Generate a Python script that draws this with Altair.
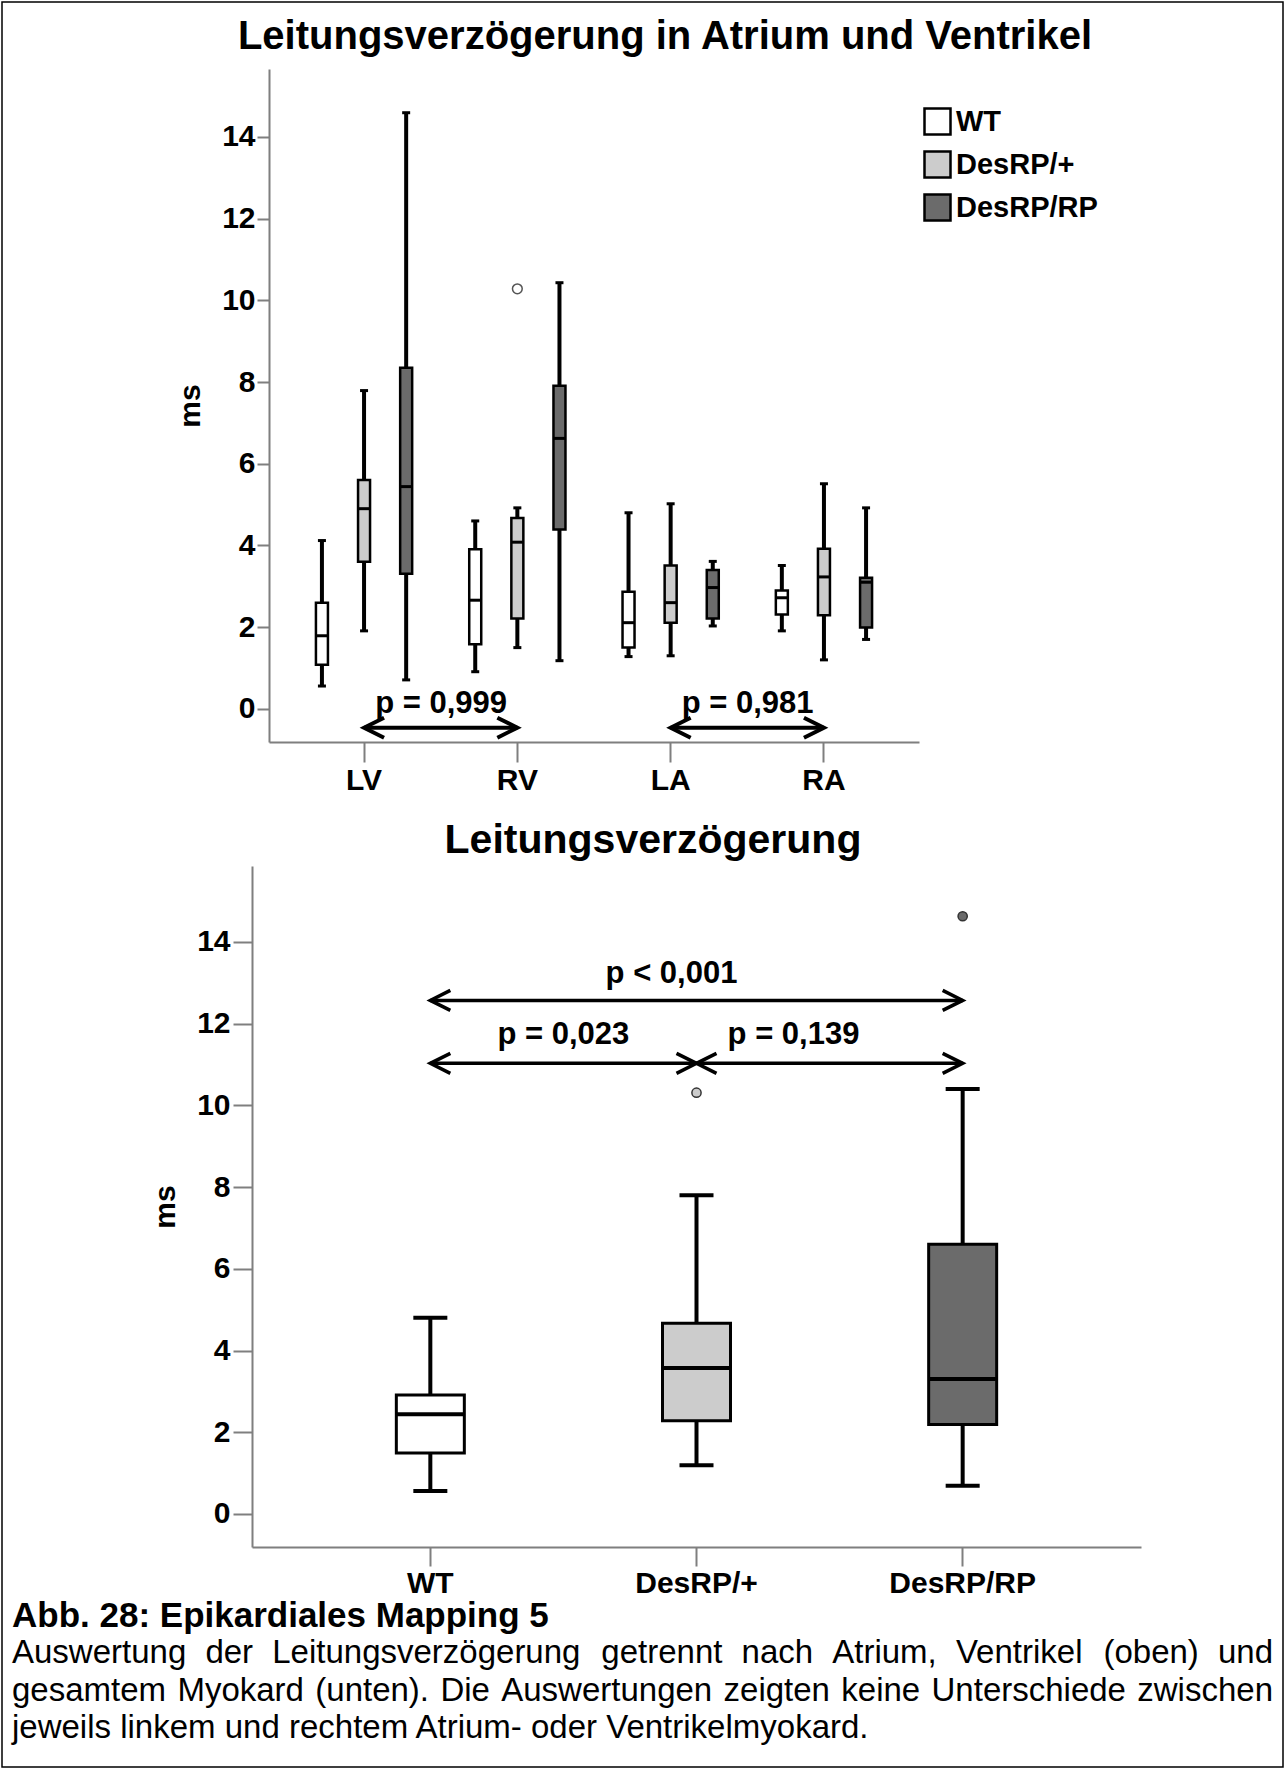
import altair as alt
import pandas as pd

FONT = "Liberation Sans"

# ---------------- data ----------------
regions = ["LV", "RV", "LA", "RA"]
groups = ["WT", "DesRP/+", "DesRP/RP"]
group_fills = ["#ffffff", "#cccccc", "#6b6b6b"]
y_ticks = [0, 2, 4, 6, 8, 10, 12, 14]

top_title = "Leitungsverzögerung in Atrium und Ventrikel"
bottom_title = "Leitungsverzögerung"

# top panel: box statistics per region x group (whisker low, q1, median, q3, whisker high)
top_region = [r for r in regions for _ in groups]
top_group = groups * len(regions)
top_low = [0.56, 1.91, 0.71, 0.91, 1.50, 1.18, 1.28, 1.30, 2.03, 1.91, 1.20, 1.70]
top_q1 = [1.08, 3.60, 3.31, 1.58, 2.21, 4.39, 1.50, 2.11, 2.21, 2.31, 2.29, 1.99]
top_med = [1.79, 4.90, 5.44, 2.66, 4.08, 6.62, 2.11, 2.60, 2.97, 2.72, 3.23, 3.10]
top_q3 = [2.60, 5.60, 8.35, 3.91, 4.67, 7.91, 2.87, 3.51, 3.40, 2.90, 3.92, 3.21]
top_high = [4.12, 7.79, 14.59, 4.60, 4.92, 10.43, 4.80, 5.02, 3.61, 3.51, 5.51, 4.92]
top_out_region = ["RV"]
top_out_group = ["DesRP/+"]
top_out_value = [10.28]

top_cmp_from = ["LV", "LA"]
top_cmp_to = ["RV", "RA"]
top_cmp_label = ["p = 0,999", "p = 0,981"]
top_cmp_arrow_y = [-0.46, -0.46]
top_cmp_label_y = [-0.1, -0.1]

# bottom panel
bot_low = [0.56, 1.19, 0.69]
bot_q1 = [1.49, 2.28, 2.19]
bot_med = [2.44, 3.57, 3.30]
bot_q3 = [2.91, 4.67, 6.60]
bot_high = [4.80, 7.80, 10.40]
bot_out_group = ["DesRP/+", "DesRP/RP"]
bot_out_value = [10.31, 14.63]

bot_cmp_from = ["WT", "WT", "DesRP/+"]
bot_cmp_to = ["DesRP/RP", "DesRP/+", "DesRP/RP"]
bot_cmp_label = ["p < 0,001", "p = 0,023", "p = 0,139"]
bot_cmp_arrow_y = [12.57, 11.03, 11.03]
bot_cmp_label_y = [13.0, 11.5, 11.5]

caption_lines = [
    "Abb. 28: Epikardiales Mapping 5",
    "Auswertung der Leitungsverzögerung getrennt nach Atrium, Ventrikel (oben) und",
    "gesamtem Myokard (unten). Die Auswertungen zeigten keine Unterschiede zwischen",
    "jeweils linkem und rechtem Atrium- oder Ventrikelmyokard.",
]
caption_justified = [False, True, True, False]

# ---------------- tables ----------------
top_df = pd.DataFrame(dict(region=top_region, group=top_group, low=top_low, q1=top_q1,
                           med=top_med, q3=top_q3, high=top_high))
top_out_df = pd.DataFrame(dict(region=top_out_region, group=top_out_group, value=top_out_value))
bot_df = pd.DataFrame(dict(group=groups, low=bot_low, q1=bot_q1, med=bot_med, q3=bot_q3, high=bot_high))
bot_out_df = pd.DataFrame(dict(group=bot_out_group, value=bot_out_value))


def arrow_tables(cfrom, cto, ay, field):
    rows = []
    for i, (a, b, y) in enumerate(zip(cfrom, cto, ay)):
        rows.append({"cid": i, field: a, "y": y})
        rows.append({"cid": i, field: b, "y": y})
    line = pd.DataFrame(rows)
    left = pd.DataFrame({field: cfrom, "y": ay})
    right = pd.DataFrame({field: cto, "y": ay})
    return line, left, right


def title_mark(text, size, cx, base_y):
    return alt.Chart(pd.DataFrame({"t": [text]})).mark_text(
        font=FONT, fontSize=size, fontWeight="bold", color="black",
        align="center", baseline="alphabetic"
    ).encode(x=alt.value(cx), y=alt.value(base_y), text="t:N")


LEFT_HEAD = "M1,-0.5L0,0L1,0.5"
RIGHT_HEAD = "M-1,-0.5L0,0L-1,0.5"

# ---------------- top chart ----------------
top_x = alt.X("region:N",
              scale=alt.Scale(domain=regions, range=[17, 667], paddingInner=0, paddingOuter=0.12),
              axis=alt.Axis(title=None, labelAngle=0, tickSize=20, labelPadding=3))
top_xoff = alt.XOffset("group:N", scale=alt.Scale(domain=groups, paddingInner=0, paddingOuter=0.32))
top_yscale = alt.Scale(domain=[-0.81, 15.66], nice=False, zero=False)
top_yaxis = alt.Axis(title="ms", values=y_ticks, tickSize=12, labelPadding=2, offset=-17, titlePadding=16)

base_top = alt.Chart(top_df)
frame = alt.Chart(pd.DataFrame({"f": [0]})).mark_rect(
    fillOpacity=0, stroke="black", strokeWidth=1.5
).encode(x=alt.value(-250), x2=alt.value(1031), y=alt.value(-67), y2=alt.value(1698))

t_whisk = base_top.mark_rule(color="black", strokeWidth=4).encode(
    x=top_x, xOffset=top_xoff, y=alt.Y("low:Q", scale=top_yscale, axis=top_yaxis), y2="high:Q")
t_cap_lo = base_top.mark_tick(color="black", size=8, thickness=3, opacity=1).encode(
    x=top_x, xOffset=top_xoff, y=alt.Y("low:Q"))
t_cap_hi = base_top.mark_tick(color="black", size=8, thickness=3, opacity=1).encode(
    x=top_x, xOffset=top_xoff, y=alt.Y("high:Q"))
t_box = base_top.mark_bar(size=12, stroke="black", strokeWidth=2.5, opacity=1).encode(
    x=top_x, xOffset=top_xoff, y="q1:Q", y2="q3:Q",
    fill=alt.Fill("group:N", scale=alt.Scale(domain=groups, range=group_fills),
                  legend=alt.Legend(title=None, orient="none", legendX=671, legendY=38,
                                    symbolType="square", symbolSize=676,
                                    symbolStrokeColor="black", symbolStrokeWidth=2.5,
                                    symbolOpacity=1, labelFont=FONT, labelFontSize=29,
                                    labelFontWeight="bold", labelColor="black",
                                    rowPadding=6, labelOffset=4)))
t_med = base_top.mark_tick(color="black", size=12, thickness=3, opacity=1).encode(
    x=top_x, xOffset=top_xoff, y="med:Q")
t_out = alt.Chart(top_out_df).mark_point(shape="circle", filled=False, color="#555555",
                                         strokeWidth=1.5, size=95, opacity=1).encode(
    x=top_x, xOffset=top_xoff, y="value:Q")

tl, tleft, tright = arrow_tables(top_cmp_from, top_cmp_to, top_cmp_arrow_y, "region")
t_arrow = alt.Chart(tl).mark_line(color="black", strokeWidth=4).encode(
    x=top_x, y="y:Q", detail="cid:N")
t_head_l = alt.Chart(tleft).mark_point(shape=LEFT_HEAD, filled=False, color="black",
                                       strokeWidth=4, size=1600, opacity=1).encode(x=top_x, y="y:Q")
t_head_r = alt.Chart(tright).mark_point(shape=RIGHT_HEAD, filled=False, color="black",
                                        strokeWidth=4, size=1600, opacity=1).encode(x=top_x, y="y:Q")
top_label_dx = [77, 77]
t_labels = []
for lab, a, y, dx in zip(top_cmp_label, top_cmp_from, top_cmp_label_y, top_label_dx):
    d = pd.DataFrame({"region": [a], "y": [y], "label": [lab]})
    t_labels.append(alt.Chart(d).mark_text(font=FONT, fontSize=31, fontWeight="bold", color="black",
                                           align="center", baseline="alphabetic", dx=dx).encode(
        x=top_x, y="y:Q", text="label:N"))

top_chart = alt.layer(frame, title_mark(top_title, 40, 413, -20),
                      t_whisk, t_cap_lo, t_cap_hi, t_box, t_med, t_out,
                      t_arrow, t_head_l, t_head_r, *t_labels).properties(width=667, height=673)

# ---------------- bottom chart ----------------
bot_x = alt.X("group:N",
              scale=alt.Scale(domain=groups, paddingInner=0, paddingOuter=0.17),
              axis=alt.Axis(title=None, labelAngle=0, tickSize=19, labelPadding=2))
bot_yscale = alt.Scale(domain=[-0.81, 15.86], nice=False, zero=False)
bot_yaxis = alt.Axis(title="ms", values=y_ticks, tickSize=19, labelPadding=3, titlePadding=16)

base_bot = alt.Chart(bot_df)
b_whisk = base_bot.mark_rule(color="black", strokeWidth=4).encode(
    x=bot_x, y=alt.Y("low:Q", scale=bot_yscale, axis=bot_yaxis), y2="high:Q")
b_cap_lo = base_bot.mark_tick(color="black", size=34, thickness=4, opacity=1).encode(x=bot_x, y="low:Q")
b_cap_hi = base_bot.mark_tick(color="black", size=34, thickness=4, opacity=1).encode(x=bot_x, y="high:Q")
b_box = base_bot.mark_bar(size=68, stroke="black", strokeWidth=3, opacity=1).encode(
    x=bot_x, y="q1:Q", y2="q3:Q",
    fill=alt.Fill("group:N", scale=alt.Scale(domain=groups, range=group_fills), legend=None))
b_med = base_bot.mark_tick(color="black", size=68, thickness=4, opacity=1).encode(x=bot_x, y="med:Q")
b_out = alt.Chart(bot_out_df).mark_point(shape="circle", filled=True, stroke="#333333",
                                         strokeWidth=1.5, size=85, opacity=1).encode(
    x=bot_x, y="value:Q",
    fill=alt.Fill("group:N", scale=alt.Scale(domain=groups, range=group_fills), legend=None))

bl, bleft, bright = arrow_tables(bot_cmp_from, bot_cmp_to, bot_cmp_arrow_y, "group")
b_arrow = alt.Chart(bl).mark_line(color="black", strokeWidth=3.5).encode(
    x=bot_x, y="y:Q", detail="cid:N")
b_head_l = alt.Chart(bleft).mark_point(shape=LEFT_HEAD, filled=False, color="black",
                                       strokeWidth=3.5, size=1600, opacity=1).encode(x=bot_x, y="y:Q")
b_head_r = alt.Chart(bright).mark_point(shape=RIGHT_HEAD, filled=False, color="black",
                                        strokeWidth=3.5, size=1600, opacity=1).encode(x=bot_x, y="y:Q")
bot_label_anchor = ["DesRP/+", "WT", "DesRP/+"]
bot_label_dx = [-25, 133, 97]
b_labels = []
for lab, a, y, dx in zip(bot_cmp_label, bot_label_anchor, bot_cmp_label_y, bot_label_dx):
    d = pd.DataFrame({"group": [a], "y": [y], "label": [lab]})
    b_labels.append(alt.Chart(d).mark_text(font=FONT, fontSize=31, fontWeight="bold", color="black",
                                           align="center", baseline="alphabetic", dx=dx).encode(
        x=bot_x, y="y:Q", text="label:N"))

bottom_chart = alt.layer(title_mark(bottom_title, 41, 401, -13),
                         b_whisk, b_cap_lo, b_cap_hi, b_box, b_med, b_out,
                         b_arrow, b_head_l, b_head_r, *b_labels).properties(width=889, height=681)

# ---------------- caption (justified like the original text block) ----------------
# Arial / Liberation Sans regular advance widths (em)
GLYPH_EM = {
    " ": .278, "A": .667, "D": .722, "L": .556, "M": .833, "U": .722, "V": .667,
    "a": .556, "b": .556, "c": .5, "d": .556, "e": .556, "g": .556, "h": .556, "i": .222,
    "j": .222, "k": .5, "l": .222, "m": .833, "n": .556, "o": .556, "r": .333, "s": .5,
    "t": .278, "u": .556, "w": .722, "y": .5, "z": .5, "ö": .556, ",": .278, ".": .278,
    "(": .333, ")": .333, "-": .333,
}
CAP_SIZE = 33
LINE_EM = 1261 / CAP_SIZE  # text block width in em of the body font

rows = []
for li, (line, just) in enumerate(zip(caption_lines, caption_justified)):
    if not just:
        rows.append({"line": li, "word": line, "xem": 0.0, "anchor": "start"})
        continue
    words = line.split(" ")
    wem = [sum(GLYPH_EM.get(c, .556) for c in w) for w in words]
    gap = (LINE_EM - sum(wem)) / (len(words) - 1)
    pos = 0.0
    for wi, (w, we) in enumerate(zip(words, wem)):
        if wi == len(words) - 1:
            rows.append({"line": li, "word": w, "xem": LINE_EM, "anchor": "end"})
        else:
            rows.append({"line": li, "word": w, "xem": pos, "anchor": "start"})
        pos += we + gap
cap_df = pd.DataFrame(rows)

cap_x = alt.X("xem:Q", scale=alt.Scale(domain=[0, LINE_EM], range=[-240, 1021]), axis=None)
cap_y = alt.Y("line:O", scale=alt.Scale(type="point", domain=[0, 1, 2, 3], range=[-55, 57], padding=0),
              axis=None)
cap_bold = alt.Chart(cap_df).transform_filter("datum.line == 0").mark_text(
    align="left", baseline="middle", font=FONT, fontSize=35, fontWeight="bold", color="black"
).encode(x=cap_x, y=cap_y, text="word:N")
cap_start = alt.Chart(cap_df).transform_filter("datum.line > 0 && datum.anchor == 'start'").mark_text(
    align="left", baseline="middle", font=FONT, fontSize=CAP_SIZE, color="black"
).encode(x=cap_x, y=cap_y, text="word:N")
cap_end = alt.Chart(cap_df).transform_filter("datum.line > 0 && datum.anchor == 'end'").mark_text(
    align="right", baseline="middle", font=FONT, fontSize=CAP_SIZE, color="black"
).encode(x=cap_x, y=cap_y, text="word:N")
caption = alt.layer(cap_bold, cap_start, cap_end).properties(width=889, height=60)

chart = alt.vconcat(top_chart, bottom_chart, caption, spacing=124, bounds="flush").resolve_scale(
    x="independent", y="independent", fill="independent"
).resolve_legend(fill="independent").properties(
    padding={"left": 1, "top": 1, "right": 1, "bottom": 1}
).configure_view(stroke=None).configure_axis(
    labelFont=FONT, labelFontSize=30, labelFontWeight="bold", labelColor="black",
    titleFont=FONT, titleFontSize=30, titleFontWeight="bold", titleColor="black",
    domainColor="#7f7f7f", domainWidth=2, tickColor="#7f7f7f", tickWidth=2, grid=False
)

chart.save("out.html", embed_options={"renderer": "svg", "actions": False})
